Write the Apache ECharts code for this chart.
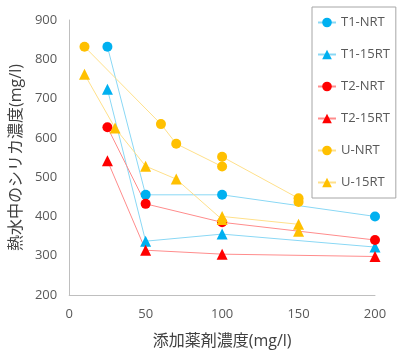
<!DOCTYPE html>
<html><head><meta charset="utf-8">
<script src="https://cdn.jsdelivr.net/npm/echarts@6/dist/echarts.min.js"></script>
<style>html,body{margin:0;padding:0;background:#fff}#c{width:407px;height:360px}</style>
</head><body><div id="c"></div>
<script>
const xTicks = [0, 50, 100, 150, 200];
const yTicks = [200, 300, 400, 500, 600, 700, 800, 900];
const seriesNames = ['T1-NRT', 'T1-15RT', 'T2-NRT', 'T2-15RT', 'U-NRT', 'U-15RT'];
const t1NRT_x = [25, 50, 100, 200];
const t1NRT_y = [832, 455, 455, 400];
const t115RT_x = [25, 50, 100, 200];
const t115RT_y = [724, 337, 355, 322];
const t2NRT_x = [25, 50, 100, 200];
const t2NRT_y = [627, 432, 385, 340];
const t215RT_x = [25, 50, 100, 200];
const t215RT_y = [542, 314, 304, 298];
const uNRT_x = [10, 60, 70, 100, 100, 150, 150];
const uNRT_y = [832, 635, 585, 527, 552, 446, 437];
const u15RT_x = [10, 30, 50, 70, 100, 100, 150, 150];
const u15RT_y = [762, 625, 528, 495, 392, 400, 380, 362];

const pairs = (xs, ys) => xs.map((x, i) => [x, ys[i]]);
const BLUE = '#00B0F0', RED = '#FF0000', ORANGE = '#FFC000';
const mk = (name, xs, ys, color, lineColor, symbol) => ({
  name, type: 'line', data: pairs(xs, ys), symbol,
  symbolSize: symbol === 'circle' ? 10 : 11,
  itemStyle: { color },
  lineStyle: { color: lineColor, width: 1 },
  emphasis: { disabled: true }, animation: false
});
const FONT = '"Open Sans", "Noto Sans CJK JP", sans-serif';
const chart = echarts.init(document.getElementById('c'));
chart.setOption({
  animation: false,
  textStyle: { fontFamily: FONT },
  grid: { left: 63, right: 32, top: 20, bottom: 65, containLabel: false },
  xAxis: {
    type: 'value', min: xTicks[0], max: xTicks[xTicks.length - 1], interval: 50,
    axisLine: { lineStyle: { color: '#BFBFBF', width: 1 } },
    axisTick: { show: false }, splitLine: { show: false },
    axisLabel: { color: '#595959', fontSize: 13, margin: 13, fontFamily: FONT },
    name: '添加薬剤濃度(mg/l)', nameLocation: 'middle', nameGap: 38,
    nameTextStyle: { color: '#404040', fontSize: 16, fontFamily: FONT }
  },
  yAxis: {
    type: 'value', min: yTicks[0], max: yTicks[yTicks.length - 1], interval: 100,
    axisLine: { show: true, lineStyle: { color: '#BFBFBF', width: 1 } },
    axisTick: { show: false }, splitLine: { show: false },
    axisLabel: { color: '#595959', fontSize: 13, margin: 12, fontFamily: FONT },
    name: '熱水中のシリカ濃度(mg/l)', nameLocation: 'middle', nameGap: 40, nameRotate: 90,
    nameTextStyle: { color: '#404040', fontSize: 16, fontFamily: FONT }
  },
  legend: {
    orient: 'vertical', left: 312, top: 7,
    data: seriesNames,
    itemWidth: 18, itemHeight: 12, itemGap: 19,
    padding: [9, 6, 9, 5],
    borderColor: '#A6A6A6', borderWidth: 1,
    textStyle: { color: '#595959', fontSize: 13, fontFamily: FONT }
  },
  series: [
    mk(seriesNames[0], t1NRT_x, t1NRT_y, BLUE, '#8AD8F5', 'circle'),
    mk(seriesNames[1], t115RT_x, t115RT_y, BLUE, '#8AD8F5', 'triangle'),
    mk(seriesNames[2], t2NRT_x, t2NRT_y, RED, '#FF8C8C', 'circle'),
    mk(seriesNames[3], t215RT_x, t215RT_y, RED, '#FF8C8C', 'triangle'),
    mk(seriesNames[4], uNRT_x, uNRT_y, ORANGE, '#FFE08A', 'circle'),
    mk(seriesNames[5], u15RT_x, u15RT_y, ORANGE, '#FFE08A', 'triangle')
  ]
});
</script></body></html>
